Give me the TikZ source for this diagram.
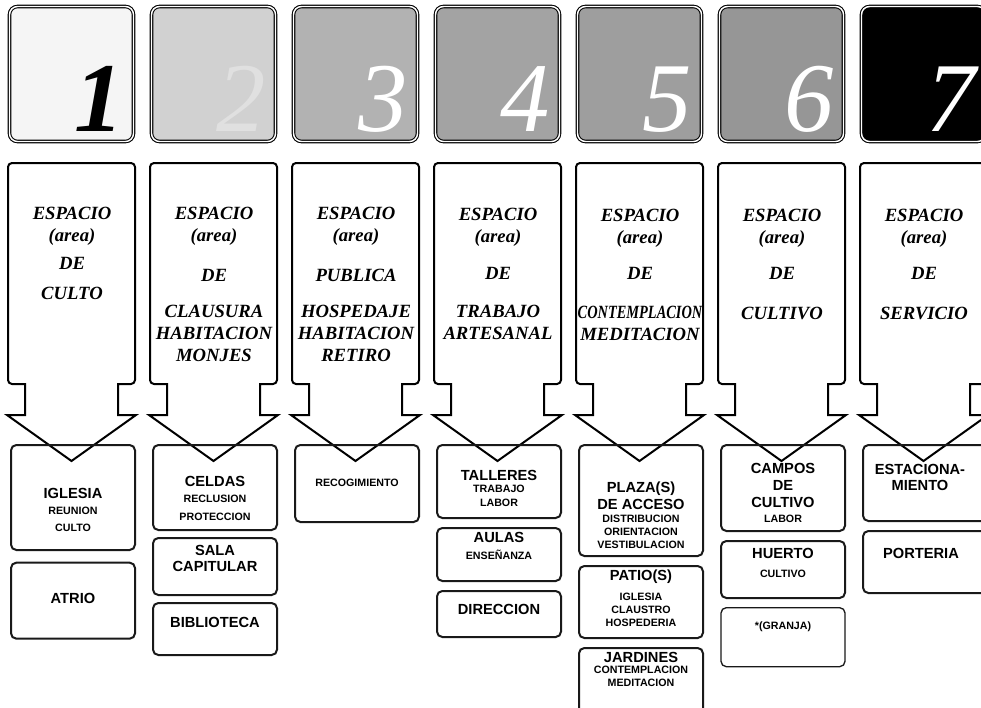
\documentclass[tikz,border=0pt]{standalone}
\usepackage{fontspec}
\setmainfont{Liberation Serif}
\setsansfont{Liberation Sans}
\usetikzlibrary{positioning}

\begin{document}
\begin{tikzpicture}[x=0.75pt,y=-0.75pt,node distance = 6pt and 0pt,
    tile/.style={rectangle,rounded corners=6pt,minimum width=93pt,minimum height=101.25pt,draw=black,line width=0.8pt,double=white,double distance=1.1pt},
    digit/.style={anchor=base east,inner sep=0pt,font=\fontsize{74}{74}\selectfont\itshape},
    shaft/.style={line width=1.5pt,line join=miter},
    espacio/.style={align=center,inner sep=0pt,font=\fontsize{14}{16.5}\selectfont\bfseries\itshape},
    cell/.style={rectangle,rounded corners=4pt,minimum width=93pt,line width=1.5pt,draw=black!90},
    big/.style={align=center,inner sep=0pt,font=\sffamily\bfseries\fontsize{11}{12.5}\selectfont},
    small/.style={align=center,inner sep=0pt,font=\sffamily\bfseries\fontsize{8}{9.75}\selectfont},
   ]

    \useasboundingbox (0,0) rectangle (981,707);
    \clip (0,0) rectangle (981,707);

    \node (sq1) [tile,fill=black!4]   at (71.5,74)  {};
    \node (sq2) [tile,fill=black!18]  at (213.5,74) {};
    \node (sq3) [tile,fill=black!30]  at (355.5,74) {};
    \node (sq4) [tile,fill=black!36]  at (497.5,74) {};
    \node (sq5) [tile,fill=black!38]  at (639.5,74) {};
    \node (sq6) [tile,fill=black!41]  at (781.5,74) {};
    \node (sq7) [tile,fill=black]     at (923.5,74) {};

    \node (n1) [digit]            at ([shift={(-10,-11)}]sq1.south east) {\bfseries 1};
    \node (n2) [digit,black!12]   at ([shift={(-10,-11)}]sq2.south east) {2};
    \node (n3) [digit,white]      at ([shift={(-10,-11)}]sq3.south east) {3};
    \node (n4) [digit,white]      at ([shift={(-10,-11)}]sq4.south east) {4};
    \node (n5) [digit,white]      at ([shift={(-10,-11)}]sq5.south east) {5};
    \node (n6) [digit,white]      at ([shift={(-10,-11)}]sq6.south east) {6};
    \node (n7) [digit,white]      at ([shift={(-10,-11)}]sq7.south east) {7};

    \draw[shaft] (71.5,461) -- ++(-64.5,-46) -- ++(18,0) -- ++(0,-31) [rounded corners=3pt] -- ++(-17,0) -- ++(0,-221) -- ++(127,0) -- ++(0,221) [sharp corners] -- ++(-17,0) -- ++(0,31) -- ++(18,0) -- cycle;
    \draw[shaft] (213.5,461) -- ++(-64.5,-46) -- ++(18,0) -- ++(0,-31) [rounded corners=3pt] -- ++(-17,0) -- ++(0,-221) -- ++(127,0) -- ++(0,221) [sharp corners] -- ++(-17,0) -- ++(0,31) -- ++(18,0) -- cycle;
    \draw[shaft] (355.5,461) -- ++(-64.5,-46) -- ++(18,0) -- ++(0,-31) [rounded corners=3pt] -- ++(-17,0) -- ++(0,-221) -- ++(127,0) -- ++(0,221) [sharp corners] -- ++(-17,0) -- ++(0,31) -- ++(18,0) -- cycle;
    \draw[shaft] (497.5,461) -- ++(-64.5,-46) -- ++(18,0) -- ++(0,-31) [rounded corners=3pt] -- ++(-17,0) -- ++(0,-221) -- ++(127,0) -- ++(0,221) [sharp corners] -- ++(-17,0) -- ++(0,31) -- ++(18,0) -- cycle;
    \draw[shaft] (639.5,461) -- ++(-64.5,-46) -- ++(18,0) -- ++(0,-31) [rounded corners=3pt] -- ++(-17,0) -- ++(0,-221) -- ++(127,0) -- ++(0,221) [sharp corners] -- ++(-17,0) -- ++(0,31) -- ++(18,0) -- cycle;
    \draw[shaft] (781.5,461) -- ++(-64.5,-46) -- ++(18,0) -- ++(0,-31) [rounded corners=3pt] -- ++(-17,0) -- ++(0,-221) -- ++(127,0) -- ++(0,221) [sharp corners] -- ++(-17,0) -- ++(0,31) -- ++(18,0) -- cycle;
    \draw[shaft] (923.5,461) -- ++(-64.5,-46) -- ++(18,0) -- ++(0,-31) [rounded corners=3pt] -- ++(-17,0) -- ++(0,-221) -- ++(127,0) -- ++(0,221) [sharp corners] -- ++(-17,0) -- ++(0,31) -- ++(18,0) -- cycle;

    \node (esp1) [espacio] at (72,226)    {ESPACIO\\(area)};
    \node (de1)  [espacio] at (72,263)    {DE};
    \node (k1)   [espacio] at (72,293)    {CULTO};
    \node (esp2) [espacio] at (214,226)   {ESPACIO\\(area)};
    \node (de2)  [espacio] at (214,275)   {DE};
    \node (k2)   [espacio] at (214,333)   {CLAUSURA\\HABITACION\\MONJES};
    \node (esp3) [espacio] at (356,226)   {ESPACIO\\(area)};
    \node (de3)  [espacio] at (356,275)   {PUBLICA};
    \node (k3)   [espacio] at (356,333)   {HOSPEDAJE\\HABITACION\\RETIRO};
    \node (esp4) [espacio] at (498,227)   {ESPACIO\\(area)};
    \node (de4)  [espacio] at (498,273)   {DE};
    \node (k4)   [espacio] at (498,322)   {TRABAJO\\ARTESANAL};
    \node (esp5) [espacio] at (640,228)   {ESPACIO\\(area)};
    \node (de5)  [espacio] at (640,273)   {DE};
    \node (k5)   [espacio] at (640,323)   {\scalebox{0.77}[1]{CONTEMPLACION}\\MEDITACION};
    \node (esp6) [espacio] at (782,228)   {ESPACIO\\(area)};
    \node (de6)  [espacio] at (782,273)   {DE};
    \node (k6)   [espacio] at (782,313)   {CULTIVO};
    \node (esp7) [espacio] at (924,228)   {ESPACIO\\(area)};
    \node (de7)  [espacio] at (924,273)   {DE};
    \node (k7)   [espacio] at (924,313)   {SERVICIO};

    \node (iglesia)   [cell,minimum height=78.75pt,anchor=north] at (73,444) {};
    \node (atrio)     [cell,minimum height=57pt,below=8pt of iglesia] {};
    \node (celdas)    [cell,minimum height=63.75pt,anchor=north] at (215,444) {};
    \node (sala)      [cell,minimum height=42.75pt,below=4.5pt of celdas] {};
    \node (biblio)    [cell,minimum height=39pt,below=4.5pt of sala] {};
    \node (recog)     [cell,minimum height=57.75pt,anchor=north] at (357,444) {};
    \node (talleres)  [cell,minimum height=54.75pt,anchor=north] at (499,444) {};
    \node (aulas)     [cell,minimum height=39.75pt,below=of talleres] {};
    \node (direccion) [cell,minimum height=34.5pt,below=of aulas] {};
    \node (plaza)     [cell,minimum height=83.25pt,anchor=north] at (641,444) {};
    \node (patio)     [cell,minimum height=54pt,below=of plaza] {};
    \node (jardines)  [cell,minimum height=52.5pt,below=of patio] {};
    \node (campos)    [cell,minimum height=64.5pt,anchor=north] at (783,444) {};
    \node (huerto)    [cell,minimum height=42.75pt,below=of campos] {};
    \node (granja)    [cell,minimum height=44.25pt,line width=1pt,below=of huerto] {};
    \node (estac)     [cell,minimum height=57pt,anchor=north] at (925,444) {};
    \node (porteria)  [cell,minimum height=46.5pt,below=of estac] {};

    \node (t-iglesia)  [big]   at (73,493)    {IGLESIA};
    \node (s-iglesia)  [small] at (73,519.5)  {REUNION\\[3pt]CULTO};
    \node (t-atrio)    [big]   at (73,598)    {ATRIO};
    \node (t-celdas)   [big]   at (215,481)   {CELDAS};
    \node (s-celdas)   [small] at (215,508)   {RECLUSION\\[3.75pt]PROTECCION};
    \node (t-sala)     [big]   at (215,558.5) {SALA\\CAPITULAR};
    \node (t-biblio)   [big]   at (215,622)   {BIBLIOTECA};
    \node (s-recog)    [small] at (357,483)   {RECOGIMIENTO};
    \node (t-talleres) [big]   at (499,475)   {TALLERES};
    \node (s-talleres) [small] at (499,496)   {TRABAJO\\[0.75pt]LABOR};
    \node (t-aulas)    [big]   at (499,537)   {AULAS};
    \node (s-aulas)    [small] at (499,555)   {ENSEÑANZA};
    \node (t-direc)    [big]   at (499,609)   {DIRECCION};
    \node (t-plaza)    [big]   at (641,496)   {PLAZA(S)\\DE ACCESO};
    \node (s-plaza)    [small] at (641,532)   {DISTRIBUCION\\ORIENTACION\\VESTIBULACION};
    \node (t-patio)    [big]   at (641,577)   {PATIO(S)};
    \node (s-patio)    [small] at (641,610)   {IGLESIA\\CLAUSTRO\\HOSPEDERIA};
    \node (t-jardines) [big]   at (641,657)   {JARDINES};
    \node (s-jardines) [small] at (641,676.5) {CONTEMPLACION\\MEDITACION};
    \node (t-campos)   [big]   at (783,485.5) {CAMPOS\\DE\\CULTIVO};
    \node (s-campos)   [small] at (783,519)   {LABOR};
    \node (t-huerto)   [big]   at (783,553)   {HUERTO};
    \node (s-huerto)   [small] at (783,574)   {CULTIVO};
    \node (s-granja)   [small] at (783,627)   {*(GRANJA)};
    \node (t-estac)    [big]   at (920,477.5) {ESTACIONA-\\MIENTO};
    \node (t-porteria) [big]   at (921,553)   {PORTERIA};
\end{tikzpicture}
\end{document}
